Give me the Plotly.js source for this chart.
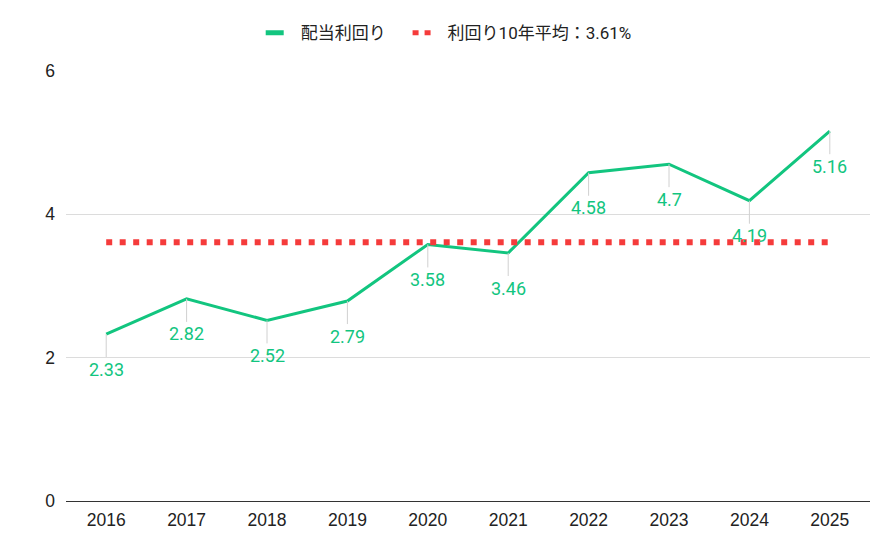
<!DOCTYPE html>
<html>
<head>
<meta charset="utf-8">
<script src="https://cdn.plot.ly/plotly-3.0.1.min.js"></script>
<style>html,body{margin:0;padding:0;background:#fff;}#chart{width:894px;height:552px;}</style>
</head>
<body>
<div id="chart"></div>
<script>
const years = ['2016','2017','2018','2019','2020','2021','2022','2023','2024','2025'];
const yieldValues = [2.33, 2.82, 2.52, 2.79, 3.58, 3.46, 4.58, 4.7, 4.19, 5.16];
const labelTexts = ['2.33','2.82','2.52','2.79','3.58','3.46','4.58','4.7','4.19','5.16'];
const avgValue = 3.61;
const avgValues = years.map(() => avgValue);
const yTicks = [0, 2, 4, 6];
const seriesNames = ['配当利回り', '利回り10年平均：3.61%'];

const green = '#12c57f';
const red = '#f53b3b';
const pad = '\u00a0\u00a0\u00a0\u00a0';

const traces = [
  {
    x: years, y: yieldValues, type: 'scatter', mode: 'lines',
    name: seriesNames[0], showlegend: false,
    line: {color: green, width: 3}
  },
  {
    x: years, y: avgValues, type: 'scatter', mode: 'lines',
    name: seriesNames[1], showlegend: false,
    line: {color: red, width: 6, dash: '6px,7.5px'}
  },
  // legend entries (short symbols as in the reference)
  {
    x: [null], y: [null], type: 'scatter', mode: 'lines',
    name: seriesNames[0] + pad, showlegend: true,
    line: {color: green, width: 5, dash: '18px,200px'}
  },
  {
    x: [null], y: [null], type: 'scatter', mode: 'lines',
    name: seriesNames[1], showlegend: true,
    line: {color: red, width: 5, dash: '6px,6px,6px,200px'}
  }
];

const annotations = years.map((yr, i) => ({
  x: i, y: yieldValues[i], xref: 'x', yref: 'y',
  text: labelTexts[i],
  showarrow: true, arrowhead: 0, arrowwidth: 1, arrowcolor: '#d0d0d0',
  ax: 0, ay: 35, standoff: 0,
  font: {family: 'Roboto, sans-serif', size: 18, color: green}
}));

const layout = {
  width: 894, height: 552,
  margin: {l: 66, r: 24, t: 71, b: 51},
  paper_bgcolor: '#fff', plot_bgcolor: '#fff',
  showlegend: true,
  legend: {
    orientation: 'h', x: 0.476, xanchor: 'center', y: 0.94, yanchor: 'middle',
    yref: 'container', itemwidth: 30,
    font: {family: 'Roboto, "Noto Sans CJK JP", sans-serif', size: 17, color: '#222'}
  },
  xaxis: {
    type: 'category', range: [-0.5, 9.5],
    showgrid: false, zeroline: false, showline: false,
    ticks: '', ticklabelstandoff: 6,
    tickfont: {family: '"Liberation Sans", Arial, sans-serif', size: 17.5, color: '#222'}
  },
  yaxis: {
    range: [0, 6], tickvals: yTicks, ticktext: yTicks.map(String),
    showgrid: true, gridcolor: '#dcdcdc', gridwidth: 1,
    zeroline: true, zerolinecolor: '#333', zerolinewidth: 1,
    showline: false, ticks: '', ticklabelstandoff: 10,
    tickfont: {family: '"Liberation Sans", Arial, sans-serif', size: 17.5, color: '#222'}
  },
  annotations: annotations
};

Plotly.newPlot('chart', traces, layout, {displayModeBar: false, staticPlot: true});
</script>
</body>
</html>
